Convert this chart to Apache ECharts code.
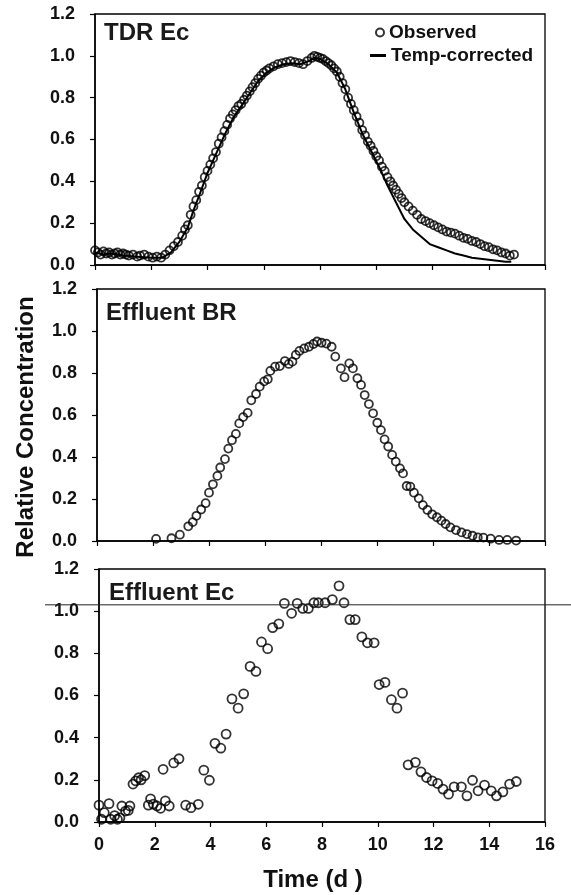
<!DOCTYPE html>
<html>
<head>
<meta charset="utf-8">
<script src="https://cdn.jsdelivr.net/npm/echarts@6/dist/echarts.min.js"></script>
<style>
html,body{margin:0;padding:0;background:#fff;}
#chart{width:571px;height:895px;}
</style>
</head>
<body>
<div id="chart"></div>
<script>
// ---------- data ----------
var panelTitles = ['TDR Ec', 'Effluent BR', 'Effluent Ec'];
var xTicks = [0, 2, 4, 6, 8, 10, 12, 14, 16];
var yTicks = [0.0, 0.2, 0.4, 0.6, 0.8, 1.0, 1.2];
var refLevel = 1.03;

var tdrObsTime = [0.0,0.1,0.2,0.3,0.4,0.5,0.6,0.7,0.8,0.9,1.0,1.1,1.2,1.35,1.5,1.6,1.75,1.9,2.05,2.2,2.35,2.5,2.65,2.8,2.95,3.1,3.2,3.3,3.4,3.5,3.6,3.7,3.8,3.9,4.0,4.1,4.2,4.3,4.4,4.5,4.6,4.7,4.8,4.9,5.0,5.1,5.2,5.3,5.4,5.5,5.6,5.7,5.8,5.9,6.0,6.1,6.2,6.35,6.5,6.65,6.8,6.95,7.1,7.25,7.4,7.55,7.7,7.8,7.9,8.0,8.1,8.2,8.3,8.4,8.5,8.6,8.7,8.8,8.9,9.0,9.1,9.2,9.3,9.4,9.5,9.6,9.7,9.8,9.9,10.0,10.1,10.2,10.3,10.4,10.5,10.6,10.7,10.8,10.9,11.0,11.15,11.3,11.45,11.6,11.75,11.9,12.05,12.2,12.35,12.5,12.65,12.8,12.95,13.1,13.25,13.4,13.55,13.7,13.85,14.0,14.15,14.3,14.45,14.6,14.75,14.9];
var tdrObsValue = [0.07,0.06,0.05,0.065,0.055,0.06,0.05,0.055,0.06,0.05,0.055,0.05,0.045,0.05,0.04,0.045,0.05,0.04,0.035,0.04,0.035,0.05,0.07,0.09,0.11,0.14,0.17,0.19,0.24,0.28,0.31,0.35,0.38,0.42,0.45,0.48,0.51,0.54,0.58,0.61,0.64,0.67,0.70,0.72,0.74,0.76,0.77,0.79,0.81,0.83,0.85,0.87,0.89,0.905,0.92,0.93,0.94,0.95,0.96,0.965,0.97,0.975,0.97,0.965,0.96,0.975,0.99,1.0,0.995,0.99,0.985,0.975,0.965,0.955,0.94,0.925,0.90,0.87,0.84,0.80,0.77,0.74,0.71,0.68,0.645,0.62,0.59,0.57,0.545,0.52,0.50,0.47,0.45,0.42,0.40,0.38,0.36,0.34,0.32,0.30,0.28,0.26,0.24,0.22,0.21,0.20,0.19,0.18,0.17,0.16,0.155,0.15,0.14,0.13,0.125,0.115,0.11,0.10,0.09,0.085,0.075,0.07,0.06,0.055,0.045,0.05];

var tdrLineTime = [0.0,0.3,0.6,1.0,1.5,2.0,2.4,2.7,3.0,3.3,3.5,3.7,4.0,4.3,4.6,4.9,5.2,5.5,5.8,6.1,6.4,6.7,7.0,7.3,7.6,7.8,8.0,8.3,8.6,8.9,9.2,9.5,9.8,10.1,10.4,10.7,11.0,11.3,11.6,11.9,12.2,12.5,12.8,13.1,13.4,13.7,14.0,14.3,14.6,14.8];
var tdrLineValue = [0.06,0.05,0.055,0.045,0.04,0.035,0.035,0.06,0.11,0.18,0.26,0.33,0.44,0.53,0.62,0.70,0.76,0.82,0.88,0.92,0.945,0.96,0.965,0.96,0.975,0.99,0.985,0.96,0.92,0.84,0.73,0.63,0.55,0.47,0.38,0.30,0.22,0.17,0.135,0.10,0.085,0.07,0.055,0.045,0.035,0.03,0.025,0.02,0.015,0.015];

var brTime = [2.11,2.66,2.96,3.26,3.42,3.55,3.72,3.88,4.0,4.14,4.3,4.4,4.57,4.69,4.82,4.96,5.08,5.22,5.38,5.51,5.68,5.81,5.97,6.1,6.19,6.36,6.53,6.71,6.85,6.98,7.1,7.23,7.4,7.57,7.73,7.86,8.02,8.19,8.38,8.51,8.71,8.84,9.01,9.14,9.3,9.43,9.56,9.71,9.86,10.01,10.14,10.27,10.4,10.54,10.67,10.82,10.93,11.06,11.19,11.32,11.49,11.64,11.8,11.97,12.14,12.3,12.45,12.62,12.82,13.02,13.21,13.41,13.6,13.8,14.06,14.36,14.65,14.97];
var brValue = [0.01,0.013,0.03,0.07,0.09,0.12,0.15,0.18,0.23,0.27,0.31,0.35,0.39,0.44,0.48,0.51,0.56,0.59,0.61,0.67,0.70,0.735,0.76,0.77,0.81,0.83,0.833,0.857,0.843,0.854,0.886,0.905,0.917,0.925,0.938,0.95,0.944,0.94,0.925,0.878,0.822,0.78,0.846,0.822,0.775,0.743,0.695,0.652,0.608,0.563,0.528,0.484,0.45,0.41,0.378,0.346,0.322,0.262,0.259,0.23,0.203,0.171,0.148,0.127,0.113,0.097,0.081,0.065,0.052,0.041,0.033,0.025,0.017,0.016,0.011,0.005,0.005,0.002];

var ecTime = [0.0,0.09,0.19,0.36,0.42,0.56,0.66,0.75,0.82,0.95,1.05,1.11,1.22,1.32,1.42,1.51,1.64,1.77,1.85,1.95,2.08,2.21,2.3,2.38,2.52,2.68,2.87,3.11,3.3,3.56,3.76,3.96,4.16,4.37,4.56,4.77,4.99,5.19,5.42,5.63,5.83,6.05,6.23,6.45,6.65,6.91,7.11,7.31,7.51,7.71,7.87,8.11,8.37,8.61,8.79,9.0,9.19,9.43,9.63,9.87,10.05,10.26,10.49,10.69,10.89,11.09,11.35,11.55,11.75,11.95,12.15,12.34,12.54,12.74,13.0,13.2,13.4,13.6,13.83,14.07,14.26,14.49,14.73,14.97];
var ecValue = [0.08,0.013,0.044,0.087,0.013,0.03,0.013,0.02,0.076,0.052,0.055,0.076,0.18,0.195,0.21,0.20,0.22,0.08,0.11,0.085,0.076,0.065,0.25,0.10,0.076,0.28,0.30,0.08,0.068,0.084,0.246,0.198,0.373,0.35,0.417,0.584,0.54,0.608,0.738,0.714,0.854,0.822,0.922,0.94,1.037,0.99,1.037,1.013,1.013,1.04,1.04,1.04,1.055,1.12,1.04,0.96,0.96,0.878,0.85,0.85,0.652,0.662,0.58,0.54,0.611,0.271,0.283,0.238,0.211,0.195,0.183,0.156,0.132,0.167,0.167,0.124,0.198,0.148,0.175,0.148,0.124,0.143,0.18,0.192];

function zip(a, b) { return a.map(function (t, i) { return [t, b[i]]; }); }

// ---------- chart ----------
var FONT = '"Liberation Sans", Arial, Helvetica, sans-serif';
var chart = echarts.init(document.getElementById('chart'), null, {renderer: 'canvas'});

var grids = [
  {left: 95, right: 26, top: 14, height: 251},
  {left: 97, right: 26, top: 289, height: 252},
  {left: 99, right: 26, top: 569, height: 253}
];
grids.forEach(function (g) { g.show = true; g.borderColor = '#000'; g.borderWidth = 1.3; g.backgroundColor = 'transparent'; });

var xAxes = [0, 1, 2].map(function (i) {
  return {
    type: 'value', gridIndex: i, min: xTicks[0], max: xTicks[xTicks.length - 1], interval: 2,
    axisLine: {show: true, lineStyle: {color: '#000', width: 1.5}},
    axisTick: {show: true, inside: false, length: 5, lineStyle: {color: '#000', width: 1.2}},
    splitLine: {show: false},
    axisLabel: {show: i === 2, margin: 14, color: '#111', fontSize: 18, fontWeight: 'bold', fontFamily: FONT}
  };
});
var yAxes = [0, 1, 2].map(function (i) {
  return {
    type: 'value', gridIndex: i, min: yTicks[0], max: yTicks[yTicks.length - 1], interval: 0.2,
    axisLine: {show: true, lineStyle: {color: '#000', width: 1.5}},
    axisTick: {show: true, inside: false, length: 5, lineStyle: {color: '#000', width: 1.2}},
    splitLine: {show: false},
    axisLabel: {margin: 20, color: '#111', fontSize: 18, fontWeight: 'bold', fontFamily: FONT,
      formatter: function (v) { return v.toFixed(1); }}
  };
});

var hollow = {color: 'rgba(255,255,255,0)', borderColor: '#000', borderWidth: 1.8};

var option = {
  animation: false,
  backgroundColor: '#fff',
  grid: grids,
  xAxis: xAxes,
  yAxis: yAxes,
  legend: [
    {data: [{name: 'Observed', icon: 'circle'}], left: 375, top: 23, itemWidth: 8, itemHeight: 8,
      selectedMode: false, padding: 0,
      textStyle: {fontSize: 19, fontWeight: 'bold', color: '#111', fontFamily: FONT}},
    {data: [{name: 'Temp-corrected', icon: 'rect'}], left: 370, top: 46, itemWidth: 16, itemHeight: 3,
      selectedMode: false, padding: 0,
      textStyle: {fontSize: 19, fontWeight: 'bold', color: '#111', fontFamily: FONT}}
  ],
  title: panelTitles.map(function (t, i) {
    var tops = [21, 301, 581];
    var lefts = [104, 106, 109];
    return {text: t, left: lefts[i], top: tops[i], padding: 0,
      textStyle: {fontSize: 24, fontWeight: 'bold', color: '#1a1a1a', fontFamily: FONT}};
  }),
  series: [
    {name: 'Temp-corrected', type: 'line', xAxisIndex: 0, yAxisIndex: 0, data: zip(tdrLineTime, tdrLineValue),
      showSymbol: false, smooth: false, lineStyle: {color: '#000', width: 2}, itemStyle: {color: '#000'}, z: 2},
    {name: 'Observed', type: 'scatter', xAxisIndex: 0, yAxisIndex: 0, data: zip(tdrObsTime, tdrObsValue),
      symbol: 'circle', symbolSize: 8, itemStyle: hollow, z: 3},
    {name: 'Effluent BR', type: 'scatter', xAxisIndex: 1, yAxisIndex: 1, data: zip(brTime, brValue),
      symbol: 'circle', symbolSize: 8, itemStyle: hollow},
    {name: 'Effluent Ec', type: 'scatter', xAxisIndex: 2, yAxisIndex: 2, data: zip(ecTime, ecValue),
      symbol: 'circle', symbolSize: 9, itemStyle: hollow}
  ]
};
chart.setOption(option);

var yRef = chart.convertToPixel({yAxisIndex: 2}, refLevel);
chart.setOption({
  graphic: [
    {type: 'line', shape: {x1: 45, y1: yRef, x2: 571, y2: yRef}, style: {stroke: '#222', lineWidth: 1}, z: 10},
    {type: 'text', x: 313, y: 880, style: {text: 'Time (d )', fill: '#111', font: 'bold 24px ' + FONT,
      textAlign: 'center', textVerticalAlign: 'middle'}},
    {type: 'text', x: 26, y: 427, rotation: Math.PI / 2, style: {text: 'Relative Concentration', fill: '#111',
      font: 'bold 24px ' + FONT, textAlign: 'center', textVerticalAlign: 'middle'}}
  ]
});
</script>
</body>
</html>
